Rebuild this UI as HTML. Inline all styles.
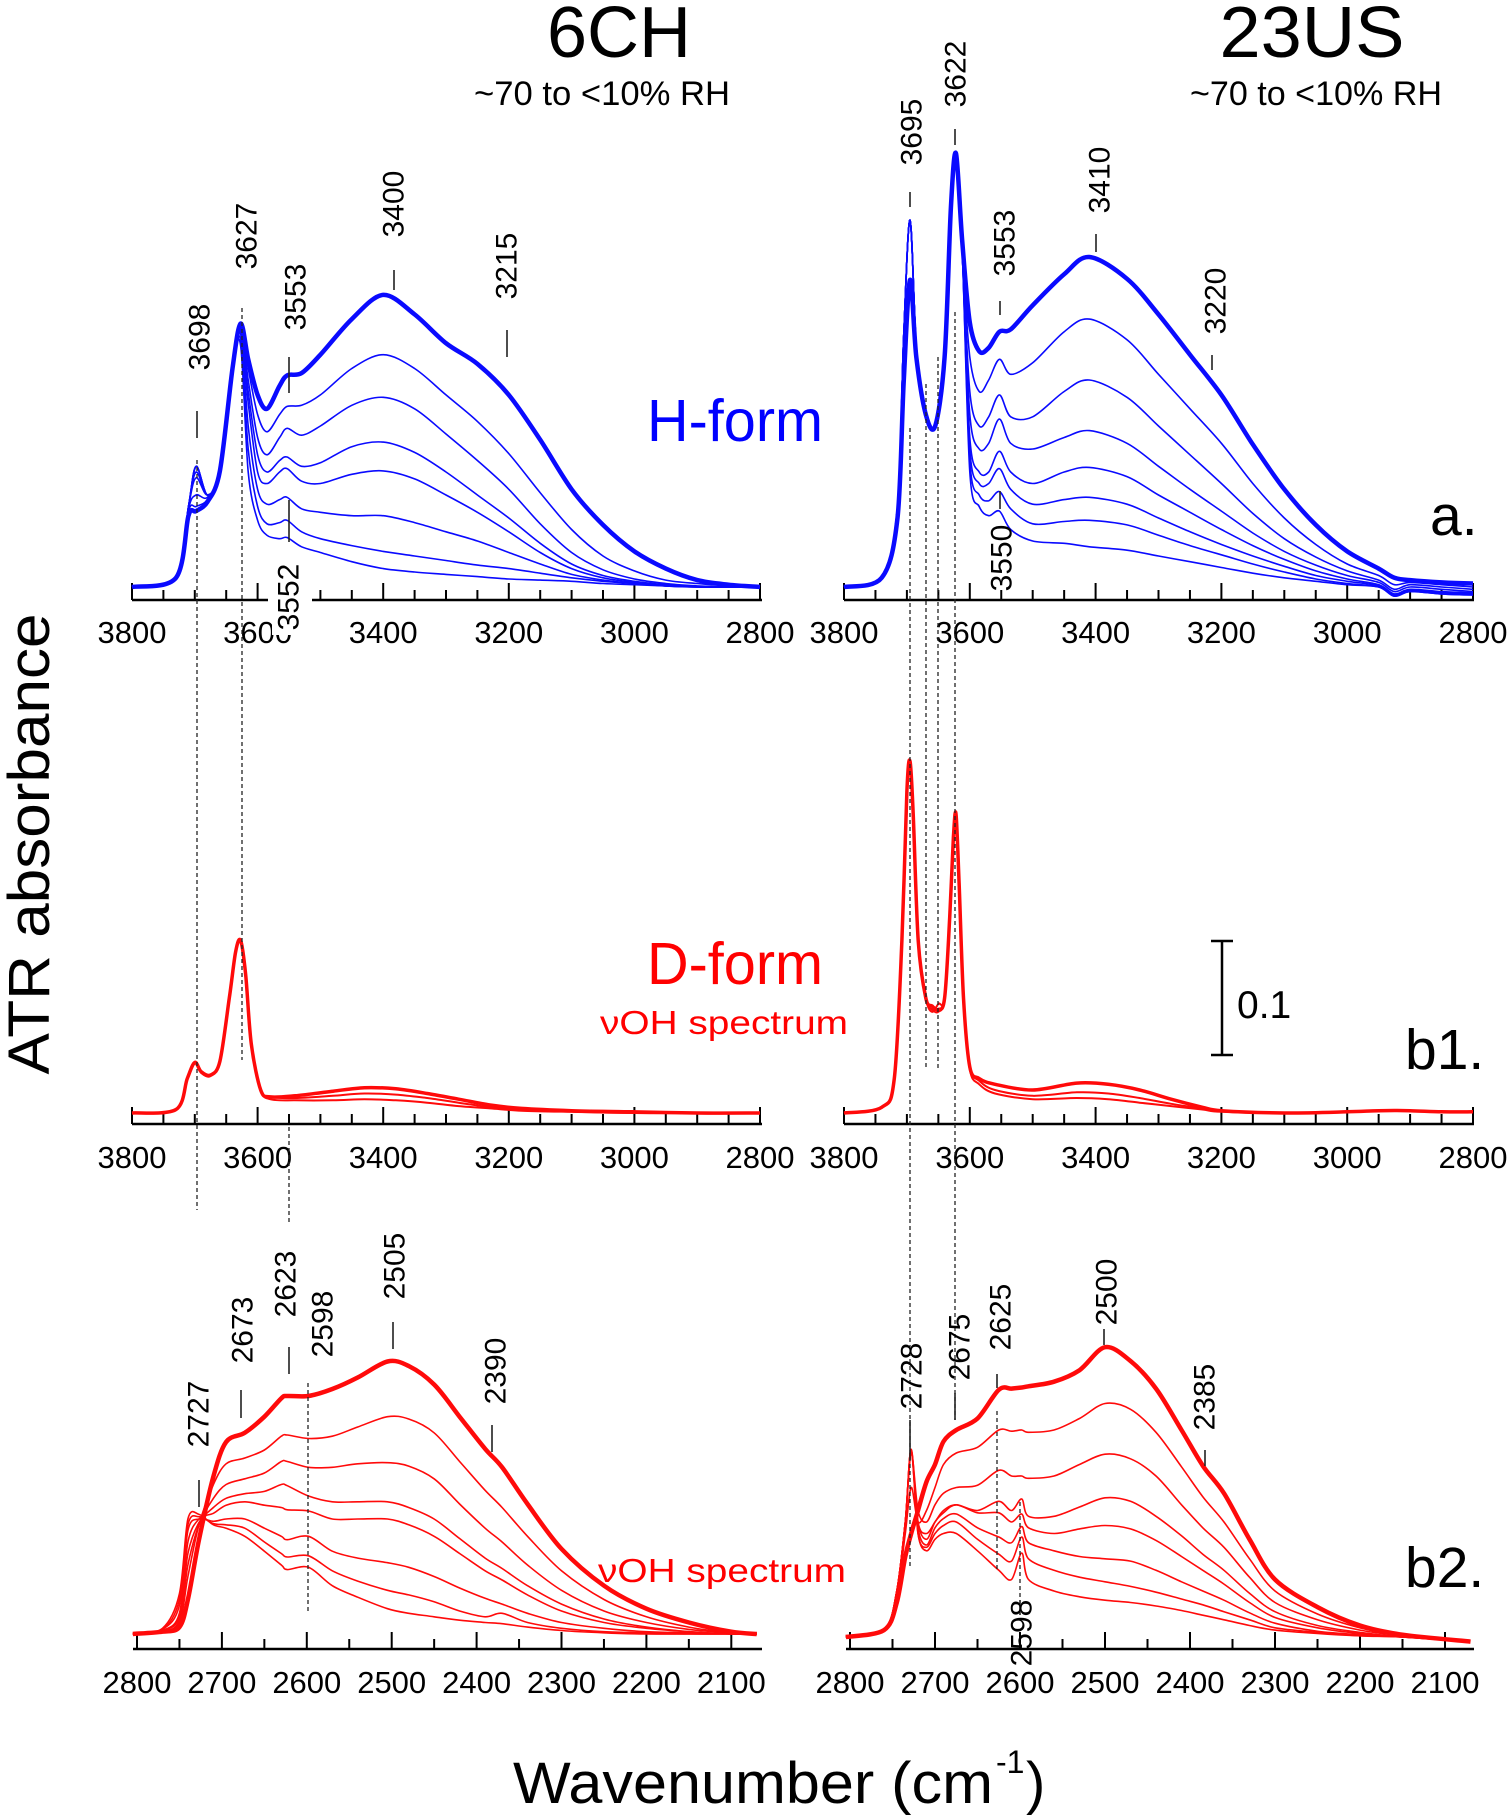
<!DOCTYPE html>
<html><head><meta charset="utf-8"><title>ATR spectra</title>
<style>
html,body{margin:0;padding:0;background:#fff;}
svg{display:block;font-family:"Liberation Sans",Arial,sans-serif;}
</style></head>
<body>
<svg id="chart" width="1509" height="1817" viewBox="0 0 1509 1817" xmlns="http://www.w3.org/2000/svg">
<rect width="1509" height="1817" fill="#fff"/>
<g id="static">
<text x="619" y="57" font-size="72" text-anchor="middle">6CH</text>
<text x="602" y="105" font-size="34" text-anchor="middle" textLength="256" lengthAdjust="spacingAndGlyphs">~70 to &lt;10% RH</text>
<text x="1312" y="57" font-size="72" text-anchor="middle" textLength="185" lengthAdjust="spacingAndGlyphs">23US</text>
<text x="1316" y="105" font-size="34" text-anchor="middle" textLength="252" lengthAdjust="spacingAndGlyphs">~70 to &lt;10% RH</text>
<text x="647" y="441" font-size="59" fill="#0000ff" textLength="176" lengthAdjust="spacingAndGlyphs">H-form</text>
<text x="647" y="984" font-size="59" fill="#ff0000" textLength="176" lengthAdjust="spacingAndGlyphs">D-form</text>
<text x="600" y="1034" font-size="33" fill="#ff0000" textLength="248" lengthAdjust="spacingAndGlyphs">νOH spectrum</text>
<text x="598" y="1582" font-size="33" fill="#ff0000" textLength="248" lengthAdjust="spacingAndGlyphs">νOH spectrum</text>
<text x="1430" y="535" font-size="57">a.</text>
<text x="1405" y="1069" font-size="57">b1.</text>
<text x="1405" y="1587" font-size="57">b2.</text>
<g stroke="#000" stroke-width="2.5">
<line x1="1222" y1="941" x2="1222" y2="1055"/><line x1="1211" y1="941" x2="1233" y2="941"/><line x1="1211" y1="1055" x2="1233" y2="1055"/>
</g>
<text x="1237" y="1018" font-size="39">0.1</text>
<text transform="translate(49,844) rotate(-90)" font-size="58" text-anchor="middle" textLength="461" lengthAdjust="spacingAndGlyphs">ATR absorbance</text>
<text x="513" y="1803" font-size="58" textLength="480" lengthAdjust="spacingAndGlyphs">Wavenumber (cm</text>
<text x="996" y="1773" font-size="32">-1</text>
<text x="1026" y="1803" font-size="58">)</text>
</g>
<g id="plots"></g>
<g id="annot"></g>
</svg>
<script>
// ---------- data ----------
const aLeftWn = [3800,3730,3710,3698,3680,3660,3640,3627,3615,3600,3585,3565,3553,3530,3500,3450,3400,3350,3300,3250,3200,3150,3100,3050,3000,2950,2900,2850,2800];
const aLeft1 = [0,.008,.062,.066,.074,.101,.19,.229,.198,.167,.155,.175,.184,.186,.202,.233,.254,.237,.212,.194,.167,.128,.085,.054,.031,.016,.006,.002,0];
const aLeft2 = [0,.008,.07,.1,.08,.1,.19,.226,.19,.15,.135,.15,.157,.158,.167,.19,.202,.19,.167,.144,.116,.082,.05,.027,.014,.006,.003,.001,0];
const aLeft3 = [0,.008,.07,.105,.08,.1,.19,.225,.18,.13,.115,.13,.138,.132,.14,.158,.165,.155,.133,.11,.085,.055,.03,.015,.007,.003,.001,0,0];
const aLeft4 = [0,.008,.07,.105,.08,.1,.19,.224,.17,.115,.1,.11,.113,.105,.108,.122,.126,.117,.1,.08,.06,.038,.02,.01,.005,.002,0,0,0];
const aLeft5 = [0,.008,.07,.105,.08,.1,.19,.222,.16,.1,.09,.1,.103,.092,.09,.098,.101,.094,.08,.065,.048,.03,.016,.008,.004,.001,0,0,0];
const aLeft6 = [0,.008,.07,.095,.08,.1,.19,.22,.14,.085,.072,.076,.078,.068,.065,.062,.062,.056,.048,.04,.03,.02,.011,.006,.003,.001,0,0,0];
const aLeft7 = [0,.008,.068,.08,.078,.1,.19,.215,.12,.07,.055,.056,.058,.048,.042,.036,.031,.027,.023,.019,.016,.012,.008,.005,.003,.001,0,0,0];
const aLeft8 = [0,.008,.066,.07,.076,.1,.19,.21,.1,.058,.045,.042,.043,.035,.03,.022,.016,.013,.011,.009,.007,.006,.005,.003,.002,.001,0,0,0];

const aRightWn = [3800,3740,3715,3705,3695,3685,3670,3655,3640,3630,3622,3612,3600,3585,3570,3553,3535,3500,3450,3410,3350,3300,3250,3200,3150,3100,3050,3000,2950,2925,2900,2850,2800];
const aRight1 = [0,.008,.06,.18,.267,.2,.15,.14,.2,.33,.377,.3,.23,.205,.208,.222,.224,.245,.272,.287,.268,.237,.202,.167,.124,.085,.054,.031,.016,.008,.006,.004,.003];
const aRight2 = [0,.008,.07,.22,.319,.21,.15,.14,.2,.33,.377,.29,.2,.17,.18,.198,.185,.195,.222,.233,.215,.185,.155,.125,.09,.06,.037,.02,.01,.002,.004,.002,0];
const aRight3 = [0,.008,.07,.22,.319,.21,.15,.14,.2,.33,.377,.29,.17,.14,.148,.167,.148,.148,.17,.18,.165,.14,.115,.09,.064,.042,.026,.014,.006,-.002,.002,0,-.002];
const aRight4 = [0,.008,.07,.22,.319,.21,.15,.14,.2,.33,.377,.29,.15,.12,.125,.146,.125,.12,.13,.136,.125,.105,.085,.066,.047,.031,.019,.01,.004,-.004,0,-.002,-.004];
const aRight5 = [0,.008,.07,.22,.319,.21,.15,.14,.2,.33,.377,.29,.13,.1,.1,.118,.1,.09,.1,.104,.096,.08,.065,.05,.036,.024,.014,.007,.002,-.006,-.002,-.004,-.005];
const aRight6 = [0,.008,.07,.22,.319,.21,.15,.14,.2,.33,.377,.29,.12,.09,.09,.103,.085,.072,.076,.078,.072,.06,.048,.037,.027,.018,.01,.005,.001,-.007,-.003,-.005,-.006];
const aRight7 = [0,.008,.07,.22,.319,.21,.15,.14,.2,.33,.377,.29,.11,.08,.075,.083,.068,.055,.057,.058,.054,.045,.036,.028,.02,.013,.007,.003,0,-.008,-.004,-.006,-.007];
const aRight8 = [0,.008,.07,.22,.319,.21,.15,.14,.2,.33,.377,.29,.1,.07,.062,.066,.05,.04,.038,.035,.032,.027,.022,.017,.012,.008,.005,.002,0,-.008,-.004,-.006,-.007];

const b1LeftWn = [3800,3730,3712,3700,3690,3675,3660,3645,3635,3627,3619,3610,3595,3580,3540,3480,3430,3380,3330,3280,3230,3180,3100,3000,2900,2800];
const b1Left1 = [0,.003,.03,.044,.036,.033,.045,.1,.14,.15,.12,.06,.02,.014,.015,.019,.022,.021,.017,.012,.007,.004,.002,.001,0,0];
const b1Left2 = [0,.003,.03,.044,.036,.033,.045,.1,.14,.15,.12,.06,.02,.014,.013,.015,.017,.016,.013,.009,.005,.003,.001,0,0,0];
const b1Left3 = [0,.003,.03,.043,.035,.032,.045,.1,.14,.149,.12,.06,.02,.012,.011,.011,.012,.011,.009,.006,.004,.002,.001,0,0,0];

const b1RightWn = [3800,3740,3720,3708,3700,3695,3690,3682,3670,3660,3650,3640,3632,3626,3622,3617,3610,3600,3585,3560,3500,3430,3380,3330,3280,3230,3200,3100,3000,2950,2900,2850,2800];
const b1Right1 = [0,.005,.03,.15,.28,.306,.26,.15,.1,.093,.09,.1,.17,.24,.26,.2,.1,.04,.03,.025,.02,.026,.025,.02,.012,.005,.002,0,.001,.002,.002,.001,.001];
const b1Right2 = [0,.005,.03,.15,.28,.304,.26,.15,.1,.09,.088,.1,.17,.24,.258,.2,.1,.04,.028,.02,.015,.018,.017,.013,.008,.004,.002,0,.001,.002,.002,.001,.001];
const b1Right3 = [0,.005,.03,.15,.28,.302,.255,.15,.1,.088,.095,.1,.17,.24,.257,.2,.1,.038,.025,.017,.012,.013,.012,.009,.006,.003,.001,0,.001,.002,.002,.001,.001];

const b2LeftWn = [2805,2770,2750,2740,2727,2710,2695,2673,2650,2630,2623,2598,2570,2540,2505,2480,2450,2420,2390,2370,2340,2300,2250,2200,2150,2100,2070];
const b2Left1 = [0,.002,.006,.03,.082,.137,.167,.175,.189,.205,.207,.207,.213,.223,.237,.233,.217,.189,.161,.145,.113,.074,.042,.022,.01,.002,0];
const b2Left2 = [0,.002,.01,.05,.095,.13,.148,.153,.16,.172,.173,.17,.172,.18,.189,.187,.175,.15,.125,.11,.085,.055,.03,.015,.006,.001,0];
const b2Left3 = [0,.002,.012,.06,.095,.118,.13,.135,.14,.15,.15,.145,.145,.148,.149,.146,.135,.113,.092,.08,.06,.038,.02,.01,.004,.001,0];
const b2Left4 = [0,.003,.015,.07,.097,.11,.118,.122,.124,.13,.129,.12,.115,.115,.115,.11,.1,.083,.066,.057,.042,.026,.013,.006,.002,0,0];
const b2Left5 = [0,.003,.018,.08,.1,.105,.112,.115,.112,.11,.108,.107,.1,.1,.1,.095,.085,.07,.055,.047,.034,.02,.01,.005,.002,0,0];
const b2Left6 = [0,.004,.025,.09,.1,.098,.1,.1,.092,.085,.082,.085,.072,.066,.062,.058,.05,.04,.031,.026,.018,.01,.005,.002,.001,0,0];
const b2Left7 = [0,.004,.03,.095,.102,.096,.095,.092,.08,.07,.067,.068,.055,.046,.038,.034,.028,.02,.015,.018,.01,.005,.002,.001,0,0,0];
const b2Left8 = [0,.005,.035,.1,.104,.095,.092,.085,.072,.06,.056,.058,.042,.032,.022,.018,.015,.012,.01,.009,.006,.003,.001,0,0,0,0];

const b2RightWn = [2805,2760,2745,2735,2728,2720,2710,2700,2690,2675,2650,2625,2610,2598,2590,2560,2530,2500,2470,2440,2410,2385,2360,2330,2300,2250,2200,2150,2070];
const b2Right1 = [0,.006,.03,.07,.09,.11,.135,.15,.17,.18,.19,.215,.216,.217,.218,.222,.232,.252,.24,.216,.18,.149,.125,.085,.05,.026,.01,.002,-.004];
const b2Right2 = [0,.006,.035,.09,.13,.1,.11,.13,.15,.16,.165,.18,.179,.18,.178,.18,.19,.203,.198,.178,.148,.122,.1,.068,.04,.02,.008,.001,-.004];
const b2Right3 = [0,.006,.04,.1,.16,.11,.1,.115,.125,.13,.132,.145,.14,.14,.138,.14,.15,.159,.155,.14,.115,.095,.078,.052,.03,.015,.006,.001,-.004];
const b2Right4 = [0,.006,.04,.1,.16,.1,.09,.1,.11,.115,.11,.118,.11,.12,.105,.105,.113,.121,.118,.105,.088,.072,.058,.038,.022,.01,.004,0,-.004];
const b2Right5 = [0,.006,.04,.1,.163,.1,.085,.1,.108,.115,.108,.108,.1,.107,.095,.09,.094,.097,.094,.084,.07,.058,.046,.03,.017,.008,.003,0,-.004];
const b2Right6 = [0,.006,.04,.1,.163,.095,.08,.095,.103,.107,.095,.087,.082,.096,.082,.075,.07,.068,.066,.058,.048,.04,.032,.021,.012,.005,.002,0,-.004];
const b2Right7 = [0,.006,.04,.1,.163,.09,.078,.09,.097,.1,.085,.072,.066,.087,.068,.058,.052,.048,.044,.039,.033,.028,.022,.015,.008,.004,.001,0,-.004];
const b2Right8 = [0,.006,.04,.1,.163,.09,.075,.085,.09,.09,.075,.058,.05,.073,.05,.04,.035,.032,.03,.027,.023,.019,.015,.01,.006,.003,.001,0,-.004];

const tickLabelsHigh = ["3800","3600","3400","3200","3000","2800"];
const tickLabelsLow = ["2800","2700","2600","2500","2400","2300","2200","2100"];

// ---------- drawing ----------
const NS = "http://www.w3.org/2000/svg";
const plots = document.getElementById('plots');
const annot = document.getElementById('annot');
const PX_PER_ABS = 1150;

function mk(tag, attrs, parent){
  const e = document.createElementNS(NS, tag);
  for (const k in attrs) e.setAttribute(k, attrs[k]);
  (parent||plots).appendChild(e);
  return e;
}
function xScale(p, wn){ return p.x0 + (p.wn0 - wn) * p.k; }
function yScale(p, a){ return p.base - a * PX_PER_ABS; }
function smoothPath(pts){
  let d = "M" + pts[0][0].toFixed(1) + "," + pts[0][1].toFixed(1);
  for (let i=0;i<pts.length-1;i++){
    const p0 = pts[Math.max(0,i-1)], p1 = pts[i], p2 = pts[i+1], p3 = pts[Math.min(pts.length-1,i+2)];
    const t = 0.16;
    const c1x = p1[0] + (p2[0]-p0[0])*t, c1y = p1[1] + (p2[1]-p0[1])*t;
    const c2x = p2[0] - (p3[0]-p1[0])*t, c2y = p2[1] - (p3[1]-p1[1])*t;
    d += " C"+c1x.toFixed(1)+","+c1y.toFixed(1)+" "+c2x.toFixed(1)+","+c2y.toFixed(1)+" "+p2[0].toFixed(1)+","+p2[1].toFixed(1);
  }
  return d;
}
function drawSeries(p, wn, vals, color, width, name){
  const pts = wn.map((w,i)=>[xScale(p,w), yScale(p,vals[i])]);
  const path = mk('path', {d: smoothPath(pts), fill:'none', stroke:color, 'stroke-width':width, 'stroke-linejoin':'round'});
  
  
}
function drawAxis(p, name, labels, labelStep, minor, major, gap){
  const g = mk('g', {});
  
  
  if (gap){
    mk('line',{x1:p.ax0,y1:p.axisY,x2:gap[0],y2:p.axisY,stroke:'#000','stroke-width':2.5},g);
    mk('line',{x1:gap[1],y1:p.axisY,x2:p.ax1,y2:p.axisY,stroke:'#000','stroke-width':2.5},g);
  } else {
    mk('line',{x1:p.ax0,y1:p.axisY,x2:p.ax1,y2:p.axisY,stroke:'#000','stroke-width':2.5},g);
  }
  for (let w = p.tickStart; w >= p.tickEnd; w -= minor){
    const x = xScale(p,w);
    if (gap && x>gap[0] && x<gap[1]) continue;
    const len = (w % major === 0) ? 17 : 10;
    mk('line',{x1:x,y1:p.axisY,x2:x,y2:p.axisY-len,stroke:'#000','stroke-width':2},g);
  }
  labels.forEach((lab)=>{
    const x = xScale(p, +lab);
    const t = mk('text',{x:x,y:p.labelY,'font-size':31,'text-anchor':'middle'},g);
    t.textContent = lab;
    
    
  });
}

const pAL = {x0:132, wn0:3800, k:0.628, base:587, axisY:600, ax0:132, ax1:762, tickStart:3800, tickEnd:2800, labelY:643};
const pAR = {x0:844, wn0:3800, k:0.629, base:587, axisY:600, ax0:844, ax1:1474, tickStart:3800, tickEnd:2800, labelY:643};
const pB1L = {x0:132, wn0:3800, k:0.628, base:1113, axisY:1124, ax0:132, ax1:762, tickStart:3800, tickEnd:2800, labelY:1168};
const pB1R = {x0:844, wn0:3800, k:0.629, base:1113, axisY:1124, ax0:844, ax1:1474, tickStart:3800, tickEnd:2800, labelY:1168};
const pB2L = {x0:137, wn0:2800, k:0.849, base:1634, axisY:1649, ax0:133, ax1:762, tickStart:2800, tickEnd:2100, labelY:1693};
const pB2R = {x0:850, wn0:2800, k:0.85, base:1637, axisY:1649, ax0:846, ax1:1474, tickStart:2800, tickEnd:2100, labelY:1693};

const BLUE = '#0a0aff', RED = '#ff0a0a';
drawAxis(pAL,'x-axis-a-6ch',tickLabelsHigh,200,50,200,[268,312]);
drawAxis(pAR,'x-axis-a-23us',tickLabelsHigh,200,50,200,null);
drawAxis(pB1L,'x-axis-b1-6ch',tickLabelsHigh,200,50,200,null);
drawAxis(pB1R,'x-axis-b1-23us',tickLabelsHigh,200,50,200,null);
drawAxis(pB2L,'x-axis-b2-6ch',tickLabelsLow,100,50,100,null);
drawAxis(pB2R,'x-axis-b2-23us',tickLabelsLow,100,50,100,null);

[aLeft8,aLeft7,aLeft6,aLeft5,aLeft4,aLeft3,aLeft2].forEach((s,i)=>drawSeries(pAL,aLeftWn,s,BLUE,1.6,'h-form-6ch-thin-'+(i+1)));
drawSeries(pAL,aLeftWn,aLeft1,BLUE,4.5,'h-form-6ch-wet');
[aRight8,aRight7,aRight6,aRight5,aRight4,aRight3,aRight2].forEach((s,i)=>drawSeries(pAR,aRightWn,s,BLUE,1.6,'h-form-23us-thin-'+(i+1)));
drawSeries(pAR,aRightWn,aRight1,BLUE,4.5,'h-form-23us-wet');
[b1Left3,b1Left2].forEach((s,i)=>drawSeries(pB1L,b1LeftWn,s,RED,2,'d-form-b1-6ch-thin-'+(i+1)));
drawSeries(pB1L,b1LeftWn,b1Left1,RED,3.5,'d-form-b1-6ch-wet');
[b1Right3,b1Right2].forEach((s,i)=>drawSeries(pB1R,b1RightWn,s,RED,2,'d-form-b1-23us-thin-'+(i+1)));
drawSeries(pB1R,b1RightWn,b1Right1,RED,3.5,'d-form-b1-23us-wet');
[b2Left8,b2Left7,b2Left6,b2Left5,b2Left4,b2Left3,b2Left2].forEach((s,i)=>drawSeries(pB2L,b2LeftWn,s,RED,1.6,'d-form-b2-6ch-thin-'+(i+1)));
drawSeries(pB2L,b2LeftWn,b2Left1,RED,4.5,'d-form-b2-6ch-wet');
[b2Right8,b2Right7,b2Right6,b2Right5,b2Right4,b2Right3,b2Right2].forEach((s,i)=>drawSeries(pB2R,b2RightWn,s,RED,1.6,'d-form-b2-23us-thin-'+(i+1)));
drawSeries(pB2R,b2RightWn,b2Right1,RED,4.5,'d-form-b2-23us-wet');

// dashed correlation lines
const dashed = [[197,460,1210],[242,308,1060],[289,1127,1223],[308,1383,1612],[910,428,1566],[926,384,1068],[938,357,1068],[955,312,1420],[997,1411,1571],[1020,1502,1600]];
dashed.forEach((d,i)=>{
  const l = mk('line',{x1:d[0],y1:d[1],x2:d[0],y2:d[2],stroke:'#222','stroke-width':1.3,'stroke-dasharray':'4,3'},annot);
  
  
});
// peak ticks
const ticks = [[197,411,438],[289,357,393],[394,270,290],[507,330,357],[289,500,542],[910,192,207],[955,129,145],[1000,301,315],[1096,234,252],[1212,355,370],[1000,491,509],
 [199,1480,1507],[241,1390,1418],[289,1347,1374],[393,1322,1349],[492,1425,1452],[910,1420,1460],[955,1393,1420],[997,1374,1388],[1104,1329,1345],[1205,1450,1466],[1020,1600,1615]];
ticks.forEach((t,i)=>{
  const l = mk('line',{x1:t[0],y1:t[1],x2:t[0],y2:t[2],stroke:'#222','stroke-width':1.6},annot);
  
  
});
// peak labels (rotated)
const peakLabels = [["3698",200,337],["3627",247,236],["3553",296,297],["3400",394,204],["3215",507,266],["3552",289,597],
 ["3695",912,132],["3622",956,74],["3553",1005,243],["3410",1100,180],["3220",1216,301],["3550",1002,558],
 ["2727",199,1414],["2673",243,1330],["2623",286,1284],["2598",323,1324],["2505",395,1266],["2390",496,1371],
 ["2728",912,1376],["2675",960,1347],["2625",1001,1317],["2500",1107,1292],["2385",1205,1397],["2598",1022,1633]];
peakLabels.forEach((p,i)=>{
  if (i===5){
    const r = mk('rect',{x:p[1]-17,y:p[2]-38,width:34,height:76,fill:'#fff'},annot);
    
    
  }
  const t = mk('text',{transform:'translate('+p[1]+','+p[2]+') rotate(-90)','font-size':30,'text-anchor':'middle','dominant-baseline':'central'},annot);
  t.textContent = p[0];
  
  
});
</script>
</body></html>
